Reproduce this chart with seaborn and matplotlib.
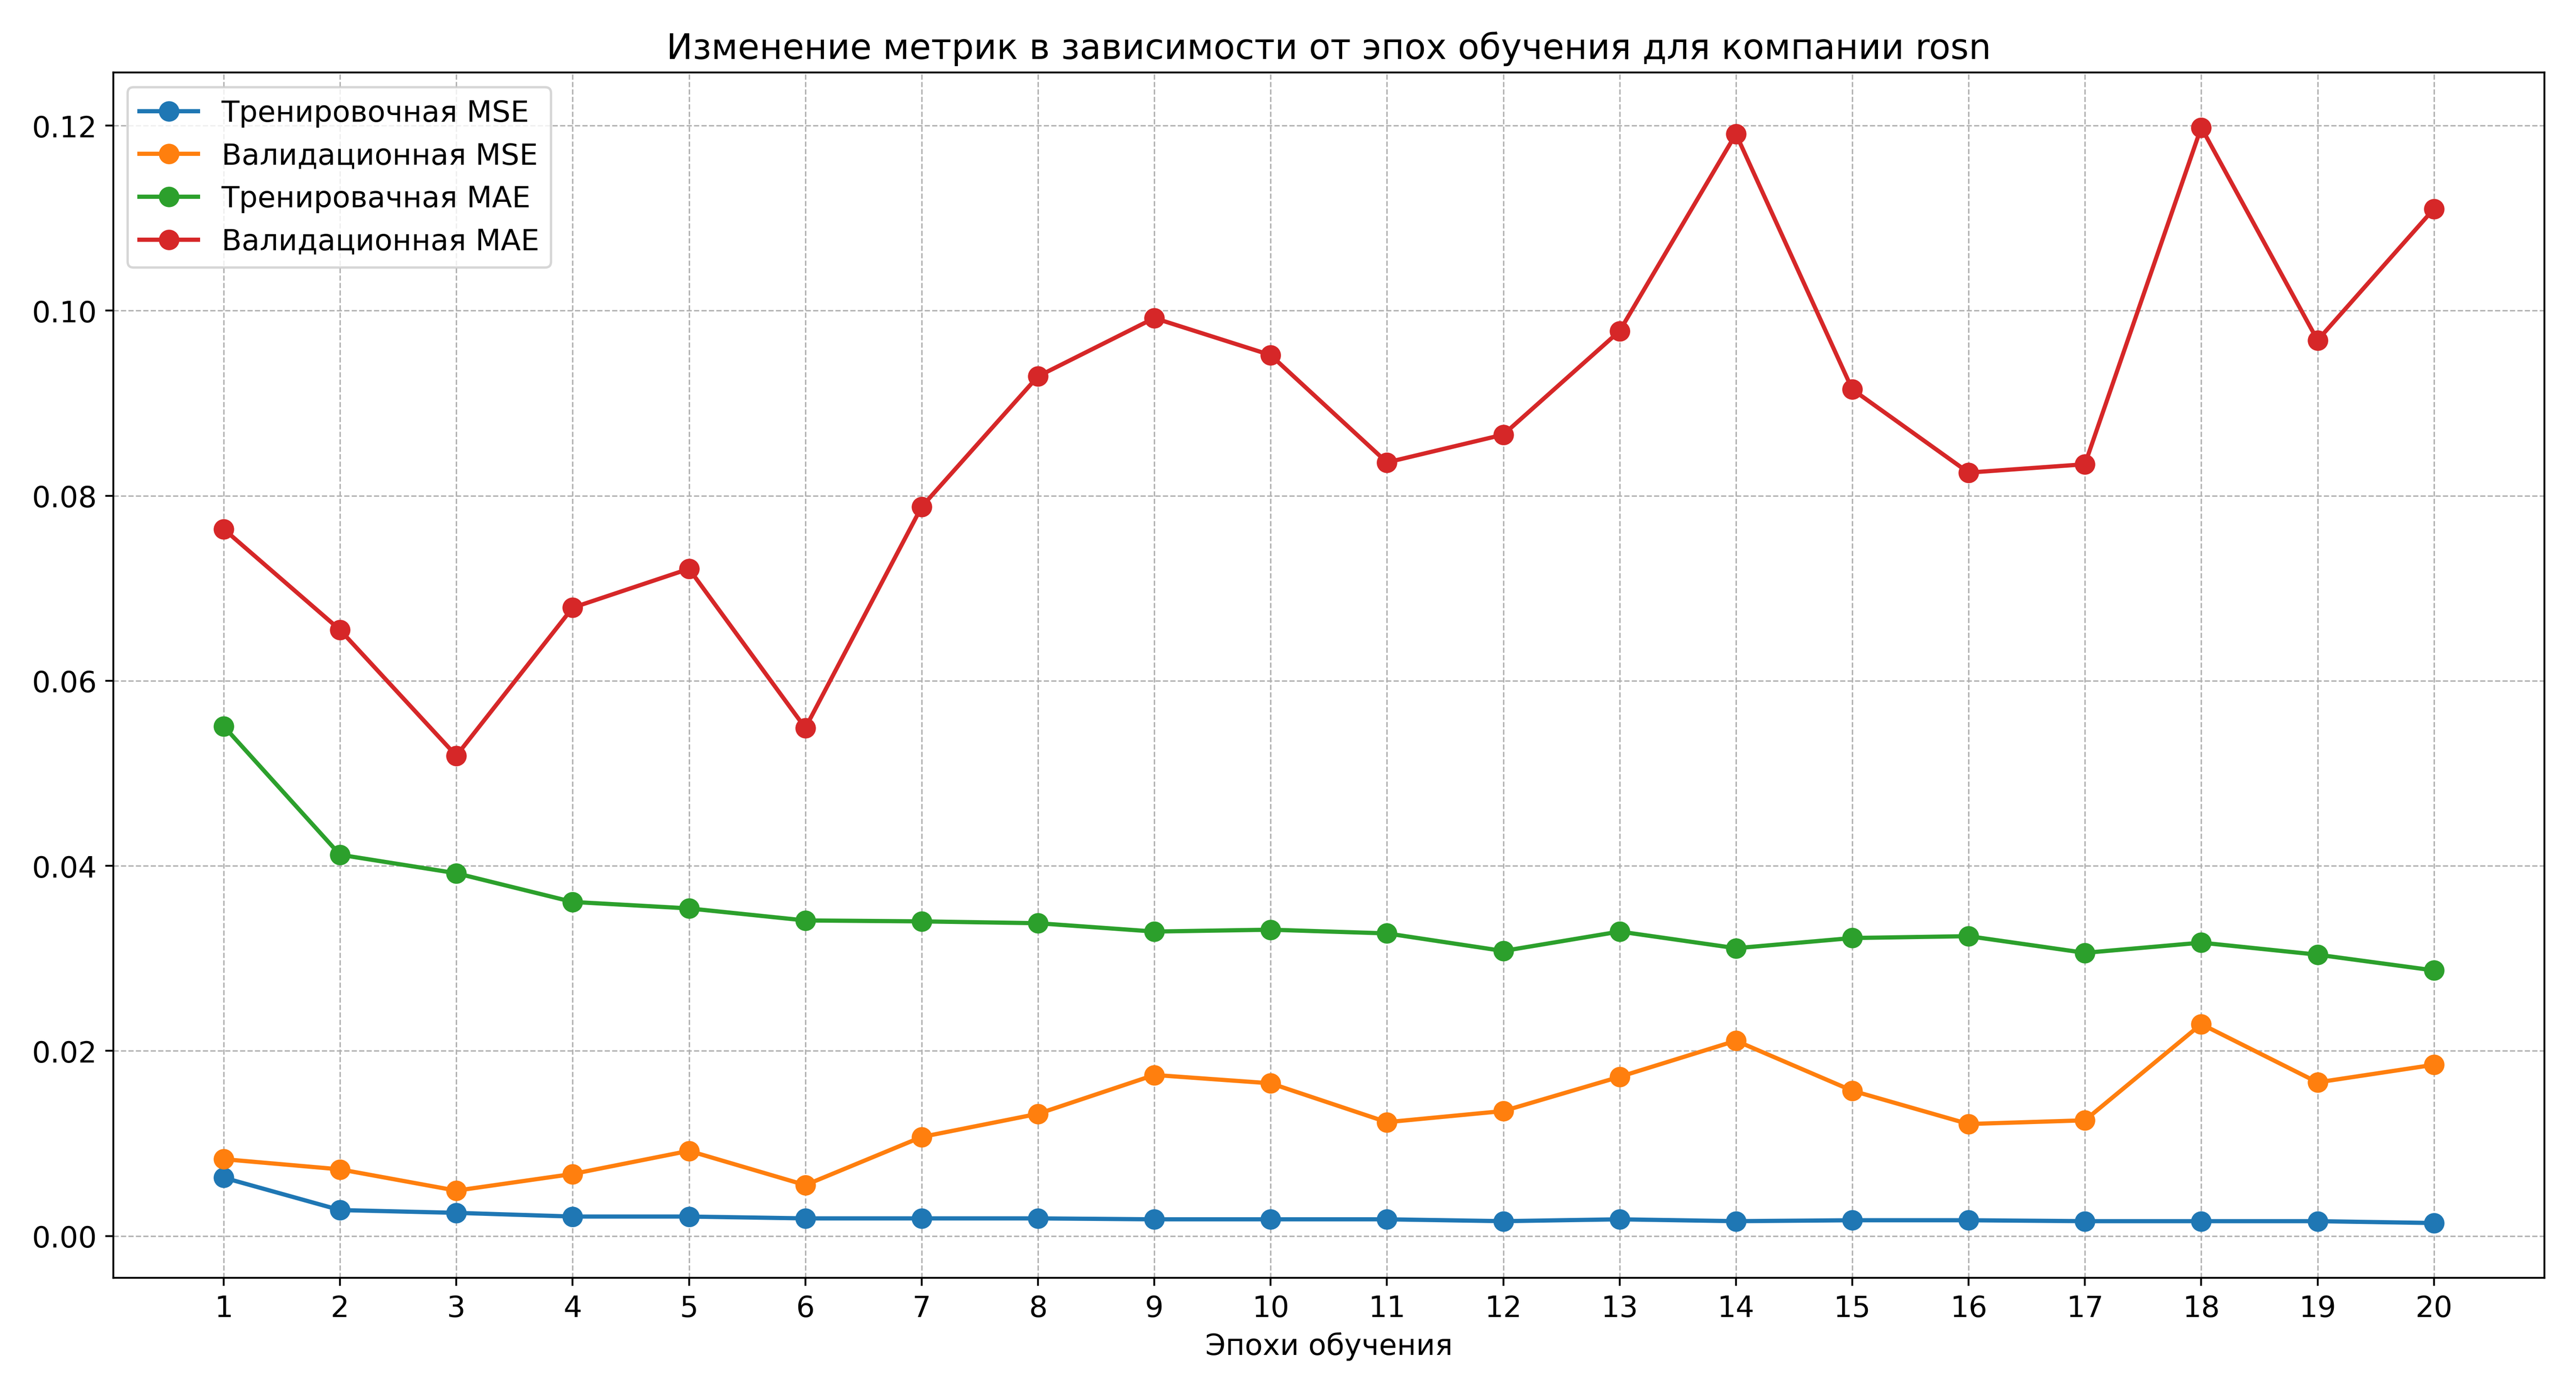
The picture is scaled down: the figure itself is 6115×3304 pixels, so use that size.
import numpy as np
import pandas as pd
import matplotlib
matplotlib.use("Agg")
import matplotlib.pyplot as plt
import seaborn as sns

epochs = list(range(1, 21))
train_mse = [0.0063, 0.0028, 0.0025, 0.0021, 0.0021, 0.0019, 0.0019, 0.0019, 0.0018, 0.0018,
             0.0018, 0.0016, 0.0018, 0.0016, 0.0017, 0.0017, 0.0016, 0.0016, 0.0016, 0.0014]
val_mse = [0.0083, 0.0072, 0.0049, 0.0067, 0.0092, 0.0055, 0.0107, 0.0132, 0.0174, 0.0165,
           0.0123, 0.0135, 0.0172, 0.0211, 0.0157, 0.0121, 0.0125, 0.0229, 0.0166, 0.0185]
train_mae = [0.0551, 0.0412, 0.0392, 0.0361, 0.0354, 0.0341, 0.0340, 0.0338, 0.0329, 0.0331,
             0.0327, 0.0308, 0.0329, 0.0311, 0.0322, 0.0324, 0.0306, 0.0317, 0.0304, 0.0287]
val_mae = [0.0764, 0.0655, 0.0519, 0.0679, 0.0721, 0.0549, 0.0788, 0.0929, 0.0992, 0.0952,
           0.0836, 0.0866, 0.0978, 0.1191, 0.0915, 0.0825, 0.0834, 0.1198, 0.0968, 0.1110]
labels = ["Тренировочная MSE", "Валидационная MSE", "Тренировачная MAE", "Валидационная MAE"]
colors = ["#1f77b4", "#ff7f0e", "#2ca02c", "#d62728"]

plt.rcParams.update({"font.size": 12.5})

fig, ax = plt.subplots(figsize=(15.2875, 8.2625), dpi=400)
for series, lab, col in zip([train_mse, val_mse, train_mae, val_mae], labels, colors):
    sns.lineplot(x=epochs, y=series, marker="o", markersize=8, markeredgecolor=col,
                 color=col, label=lab, ax=ax, linewidth=1.8)

ax.set_xticks(epochs)
ax.set_xlabel("Эпохи обучения")
ax.set_title("Изменение метрик в зависимости от эпох обучения для компании rosn", fontsize=15)
ax.grid(True, linestyle="--", linewidth=0.6, color="#b0b0b0")
ax.legend(loc="upper left")
plt.tight_layout()
plt.savefig("out.png", dpi=400)
